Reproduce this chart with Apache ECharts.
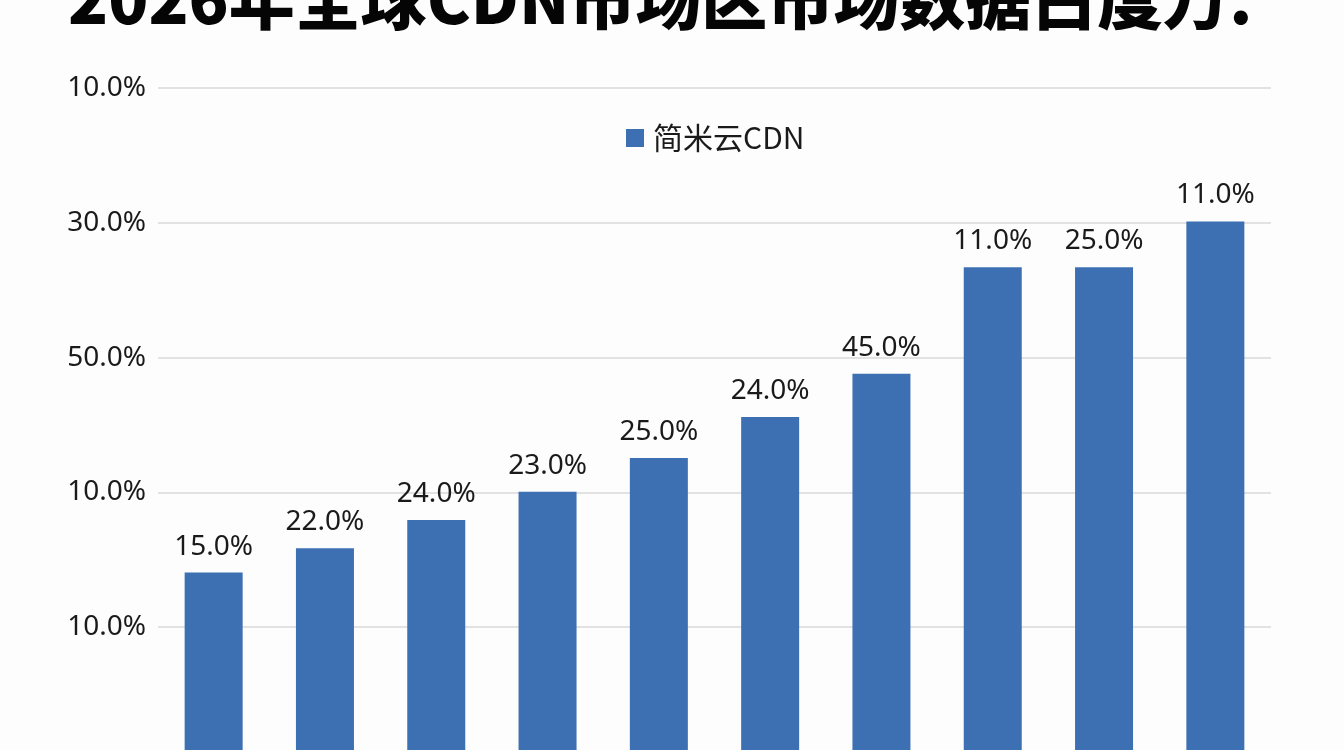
<!DOCTYPE html>
<html>
<head>
<meta charset="utf-8">
<script src="https://cdn.jsdelivr.net/npm/echarts@6/dist/echarts.min.js"></script>
<style>
html,body{margin:0;padding:0;background:#fdfdfd;overflow:hidden;width:1344px;height:750px;}
#c{width:1344px;height:762px;}
</style>
</head>
<body>
<div id="c"></div>
<script>
const titleText = '2026年全球CDN市场区市场数据占度万.';
const seriesName = '简米云CDN';
const categories = ['1', '2', '3', '4', '5', '6', '7', '8', '9', '10'];
const barHeights = [28.1, 31.7, 35.9, 40.1, 45.1, 51.2, 57.6, 73.4, 73.4, 80.2];
const barLabels = ['15.0%', '22.0%', '24.0%', '23.0%', '25.0%', '24.0%', '45.0%', '11.0%', '25.0%', '11.0%'];
const yTickValues = [100, 80, 60, 40, 20];
const yTickLabels = ['10.0%', '30.0%', '50.0%', '10.0%', '10.0%'];

const chart = echarts.init(document.getElementById('c'));
chart.setOption({
  backgroundColor: '#fdfdfd',
  animation: false,
  title: {
    text: titleText,
    left: 63,
    top: -39,
    textStyle: {
      fontFamily: 'Noto Sans CJK SC',
      fontWeight: 900,
      fontSize: 66,
      color: '#050505'
    }
  },
  legend: {
    data: [seriesName],
    left: 621,
    top: 118,
    icon: 'rect',
    itemWidth: 18,
    itemHeight: 18,
    itemGap: 10,
    textStyle: {
      fontFamily: 'Noto Sans CJK SC',
      fontSize: 30,
      padding: [0, 0, 0, 4],
      color: '#1a1a1a'
    }
  },
  grid: {
    left: 158,
    right: 73,
    top: 88,
    bottom: 0,
    containLabel: false
  },
  xAxis: {
    type: 'category',
    data: categories,
    axisLine: { show: false },
    axisTick: { show: false },
    axisLabel: { show: false }
  },
  yAxis: {
    type: 'value',
    min: 0,
    max: 100,
    interval: 20,
    axisLine: { show: false },
    axisTick: { show: false },
    splitLine: { lineStyle: { color: '#e2e2e2', width: 2 } },
    axisLabel: {
      margin: 12,
      fontFamily: 'Noto Sans',
      fontSize: 28,
      color: '#1a1a1a',
      formatter: function (v) {
        const i = yTickValues.indexOf(v);
        return i >= 0 ? yTickLabels[i] : '';
      }
    }
  },
  series: [{
    name: seriesName,
    type: 'bar',
    data: barHeights,
    barWidth: 58,
    itemStyle: { color: '#3c70b3' },
    label: {
      show: true,
      position: 'top',
      distance: 12,
      fontFamily: 'Noto Sans',
      fontSize: 28,
      color: '#1a1a1a',
      formatter: function (p) { return barLabels[p.dataIndex]; }
    }
  }]
});
</script>
</body>
</html>
